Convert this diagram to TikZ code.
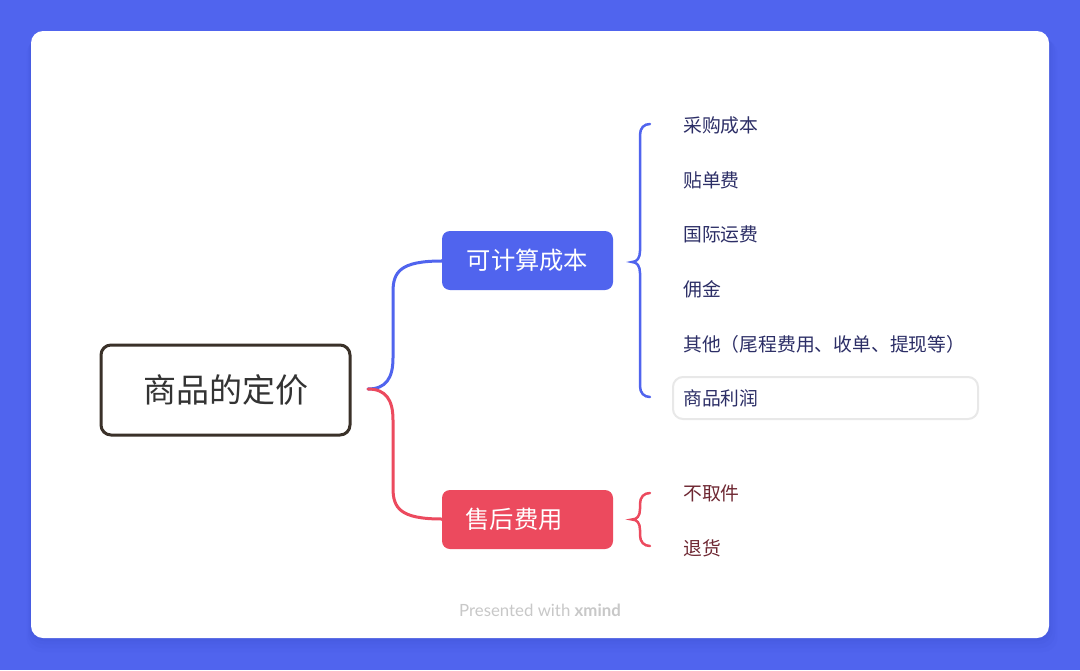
\documentclass[tikz,border=0pt]{standalone}
\usepackage{fontspec}
\setmainfont{Lato}
\newfontfamily\cjk{Noto Sans CJK SC}
\newfontfamily\footfont{Lato}
\definecolor{bgblue}{HTML}{5064EE}
\definecolor{shadowblue}{HTML}{2F3CB0}
\definecolor{rootborder}{HTML}{3A3129}
\definecolor{roottext}{HTML}{333333}
\definecolor{bluebr}{HTML}{5064EE}
\definecolor{redbr}{HTML}{EC4A5E}
\definecolor{blueleaf}{HTML}{2C2E66}
\definecolor{redleaf}{HTML}{6E2732}
\definecolor{footgray}{HTML}{C8C8C8}
\definecolor{boxgray}{HTML}{E8E8E8}
\tikzset{
  rootbox/.style={draw=rootborder, line width=3pt, rounded corners=10pt, minimum width=249pt, minimum height=90pt, inner sep=0pt, font=\cjk\fontsize{33}{36}\selectfont, text=roottext},
  branchbox/.style={rounded corners=8pt, minimum width=171pt, minimum height=59pt, inner sep=0pt, font=\cjk\fontsize{24.3}{28}\selectfont, text=white},
  leafblue/.style={anchor=west, inner sep=0pt, font=\cjk\fontsize{18.8}{22}\selectfont, text=blueleaf},
  leafred/.style={anchor=west, inner sep=0pt, font=\cjk\fontsize{18.8}{22}\selectfont, text=redleaf},
  bigbrace/.style={line width=3pt, line cap=round},
  smallbrace/.style={line width=2.5pt, line cap=round},
}
\begin{document}
\begin{tikzpicture}[x=1pt,y=-1pt]
\useasboundingbox (0,0) rectangle (1080,670);
\fill[bgblue] (0,0) rectangle (1080,670);
% soft shadow
\foreach \d/\o in {14/0.03,10/0.04,6/0.05,3/0.06}{
  \fill[shadowblue, opacity=\o, rounded corners=14pt] (31-\d*0.3,31+\d*0.6) rectangle (1049+\d*0.6,638+\d);
}
\fill[white, rounded corners=12pt] (31,31) rectangle (1049,638);

% root
\node[rootbox] (root) at (225.5,390) {商品的定价};
% branches
\node[branchbox, fill=bluebr] (b1) at (527.5,260.5) {可计算成本};
\node[branchbox, fill=redbr, text width=150pt, align=left] (b2) at (527.5,519.5) {\hspace*{13pt}售后费用};

% main brace
\coordinate (rootout) at (368,389);
\draw[bigbrace, bluebr] (rootout) .. controls (386,389) and (393,378) .. (393,358) -- (393,292) .. controls (393,272) and (400,261) .. (b1.west |- 0,261) -- (b1.west);
\draw[bigbrace, redbr] (rootout) .. controls (386,389) and (393,400) .. (393,420) -- (393,488) .. controls (393,508) and (400,519) .. (b2.west |- 0,519) -- (b2.west);

% leaves of b1
\node[leafblue] (l1) at (683,125) {采购成本};
\node[leafblue] (l2) at (683,180) {贴单费};
\node[leafblue] (l3) at (683,234.5) {国际运费};
\node[leafblue] (l4) at (683,289) {佣金};
\node[leafblue] (l5) at (683,344) {其他（尾程费用、收单、提现等）};
\draw[boxgray, line width=2pt, rounded corners=10pt] (673,377) rectangle (978,419);
\node[leafblue] (l6) at (683,398.5) {商品利润};

\coordinate (b1tip) at (632,262);
\draw[smallbrace, bluebr] (650,124) .. controls (644,124) and (640,128) .. (640,135) -- (640,251) .. controls (640,258) and (637,262) .. (b1tip)
  .. controls (637,262) and (640,266) .. (640,273) -- (640,386) .. controls (640,393) and (644,397) .. (650,397);

% leaves of b2
\node[leafred] (r1) at (683,493.5) {不取件};
\node[leafred] (r2) at (683,548.5) {退货};
\coordinate (b2tip) at (632,519.5);
\draw[smallbrace, redbr] (650,493) .. controls (644,493) and (640,497) .. (640,504) -- (640,509) .. controls (640,516) and (637,519.5) .. (b2tip)
  .. controls (637,519.5) and (640,523) .. (640,530) -- (640,535) .. controls (640,542) and (644,546) .. (650,546);

% footer
\node[font=\footfont\fontsize{16.8}{19}\selectfont, text=footgray] (foot) at (540,610) {Presented with \textbf{xmind}};
\end{tikzpicture}
\end{document}
